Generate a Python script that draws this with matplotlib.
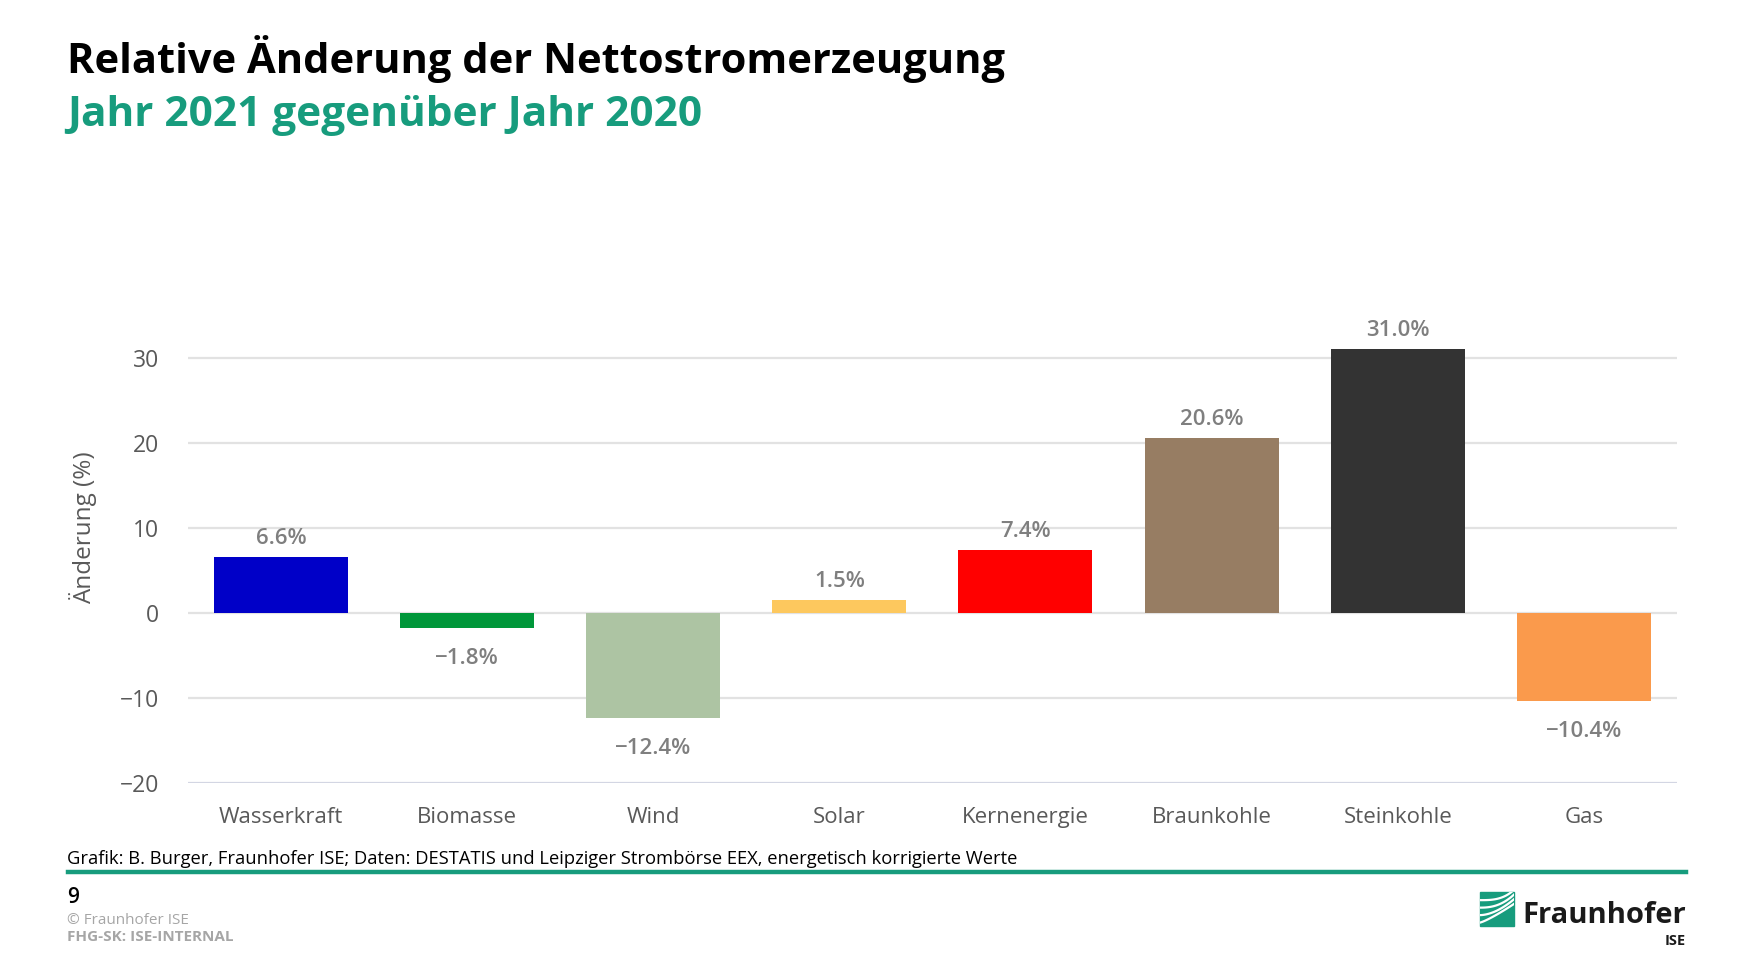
import numpy as np
import matplotlib
matplotlib.use("Agg")
import matplotlib.pyplot as plt
from matplotlib.patches import Rectangle

plt.rcParams['font.family'] = ['Open Sans', 'DejaVu Sans']

# data
categories = ["Wasserkraft", "Biomasse", "Wind", "Solar", "Kernenergie",
              "Braunkohle", "Steinkohle", "Gas"]
change = [6.6, -1.8, -12.4, 1.5, 7.4, 20.6, 31.0, -10.4]
colors = ["#0000c8", "#00973a", "#adc4a3", "#fdc85e", "#ff0000",
          "#977d63", "#333333", "#fa9a4c"]
yticks = [-20, -10, 0, 10, 20, 30]

GREEN = "#179c7d"
GREY = "#595959"

fig = plt.figure(figsize=(17.53, 9.6), dpi=100)
ax = fig.add_axes([0.1072, 0.1844, 0.8494, 0.487])

x = np.arange(len(categories))
ax.bar(x, change, width=0.72, color=colors, zorder=3)

# value labels
for xi, v in zip(x, change):
    txt = f"{v:.1f}%".replace("-", "\u2212")
    if v >= 0:
        ax.annotate(txt, (xi, v), xytext=(0, 6), textcoords="offset points",
                    ha="center", va="bottom", fontsize=16, color="#7f7f7f",
                    fontweight="semibold")
    else:
        ax.annotate(txt, (xi, v), xytext=(0, -14), textcoords="offset points",
                    ha="center", va="top", fontsize=16, color="#7f7f7f",
                    fontweight="semibold")

ax.set_xlim(-0.5, len(categories) - 0.5)
ax.set_ylim(-20, 35)
ax.set_yticks(yticks)
ax.set_yticklabels([str(t).replace("-", "\u2212") for t in yticks])
ax.set_xticks(x)
ax.set_xticklabels(categories)
ax.tick_params(axis="y", length=0, pad=21, labelsize=16.5, labelcolor=GREY)
ax.tick_params(axis="x", length=0, pad=17, labelsize=16, labelcolor=GREY)

for t in yticks:
    c = "#d3d6e3" if t == -20 else "#e2e2e2"
    ax.axhline(t, color=c, lw=1.6, zorder=1)
for s in ax.spines.values():
    s.set_visible(False)

ax.set_ylabel("Änderung (%)", fontsize=17.5, color=GREY)
ax.yaxis.set_label_coords(-0.061, 0.545)

# header
fig.text(0.0382, 1 - 73 / 960, "Relative Änderung der Nettostromerzeugung",
         fontsize=30, fontweight="bold", color="black", va="baseline")
fig.text(0.0382, 1 - 126 / 960, "Jahr 2021 gegenüber Jahr 2020",
         fontsize=30.5, fontweight="bold", color=GREEN, va="baseline")

# footer
fig.text(0.0382, 1 - 864 / 960,
         "Grafik: B. Burger, Fraunhofer ISE; Daten: DESTATIS und Leipziger Strombörse EEX, energetisch korrigierte Werte",
         fontsize=13.2, color="black", va="baseline")
fig.add_artist(plt.Line2D([68 / 1753, 1686 / 1753], [1 - 872 / 960, 1 - 872 / 960],
                          color=GREEN, lw=3.2))
fig.text(0.0382, 1 - 903 / 960, "9", fontsize=15, fontweight="semibold",
         color="black", va="baseline")
fig.text(0.0382, 1 - 924 / 960, "© Fraunhofer ISE", fontsize=11,
         color="#a6a6a6", va="baseline")
fig.text(0.0382, 1 - 941 / 960, "FHG-SK: ISE-INTERNAL", fontsize=11,
         fontweight="bold", color="#a6a6a6", va="baseline")

# logo
lx0, lx1 = 1480 / 1753, 1514 / 1753
ly0, ly1 = 1 - 926 / 960, 1 - 892 / 960
sq = Rectangle((lx0, ly0), lx1 - lx0, ly1 - ly0, transform=fig.transFigure,
               color=GREEN, zorder=5)
fig.add_artist(sq)
for k in range(4):
    t = np.linspace(0, 1, 30)
    xs = lx0 + (lx1 - lx0) * t
    ys = ly0 + (ly1 - ly0) * (0.1 + 0.22 * k + 0.55 * t ** (1.2 + 0.6 * k) * (1 - 0.15 * k))
    ln = plt.Line2D(xs, ys, color="white", lw=1.6, zorder=6, transform=fig.transFigure)
    ln.set_clip_path(sq)
    fig.add_artist(ln)
fig.text(1686 / 1753, 1 - 923 / 960, "Fraunhofer", fontsize=21,
         fontweight="bold", color="#1a1a1a", ha="right", va="baseline")
fig.text(1686 / 1753, 1 - 945 / 960, "ISE", fontsize=10.5,
         fontweight="bold", color="#1a1a1a", ha="right", va="baseline")

fig.savefig("out.png", dpi=100)
